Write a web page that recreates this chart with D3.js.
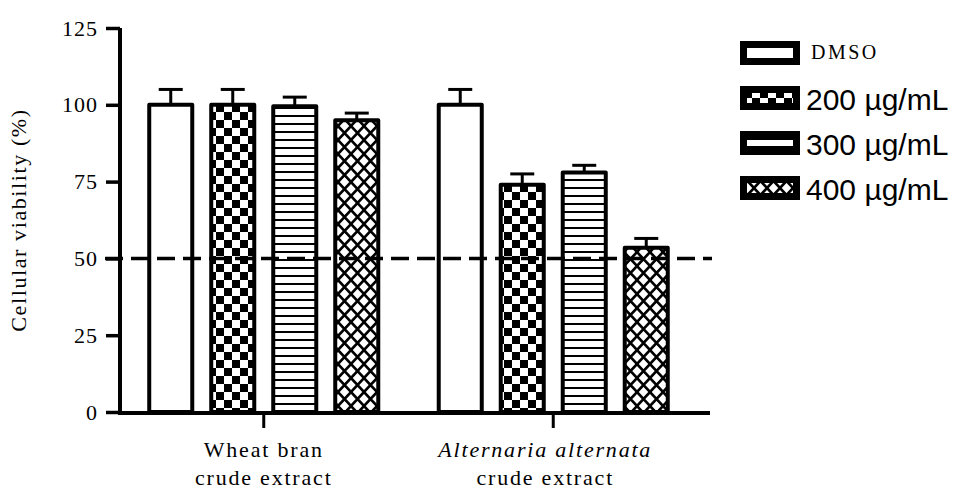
<!DOCTYPE html>
<html>
<head>
<meta charset="utf-8">
<script src="https://cdn.jsdelivr.net/npm/d3@7"></script>
<style>
  body { margin: 0; background: #fff; }
  text { fill: #000; }
</style>
</head>
<body>
<div id="chart"></div>
<script>
const groups = ["Wheat bran", "Alternaria alternata"];
const groupLines = [["Wheat bran", "crude extract"], ["Alternaria alternata", "crude extract"]];
const series = ["DMSO", "200 µg/mL", "300 µg/mL", "400 µg/mL"];
const wheatValues = [100, 100, 99.5, 95];
const wheatErrors = [5, 5, 3, 2.3];
const altValues = [100, 74, 78, 53.5];
const altErrors = [5, 3.5, 2.3, 3];
const yTicks = [0, 25, 50, 75, 100, 125];
const threshold = 50;

const W = 955, H = 491;
const svg = d3.select("#chart").append("svg")
    .attr("width", W).attr("height", H);

// patterns
const defs = svg.append("defs");
const checker = defs.append("pattern").attr("id", "p200")
    .attr("patternUnits", "userSpaceOnUse").attr("width", 16).attr("height", 16);
checker.append("rect").attr("width", 16).attr("height", 16).attr("fill", "#fff");
checker.append("rect").attr("x", 0).attr("y", 0).attr("width", 8).attr("height", 8).attr("fill", "#000");
checker.append("rect").attr("x", 8).attr("y", 8).attr("width", 8).attr("height", 8).attr("fill", "#000");

const hlines = defs.append("pattern").attr("id", "p300")
    .attr("patternUnits", "userSpaceOnUse").attr("width", 8).attr("height", 8);
hlines.append("rect").attr("width", 8).attr("height", 8).attr("fill", "#fff");
hlines.append("rect").attr("y", 3).attr("width", 8).attr("height", 2).attr("fill", "#000");

const hatch = defs.append("pattern").attr("id", "p400")
    .attr("patternUnits", "userSpaceOnUse").attr("width", 13).attr("height", 14);
hatch.append("rect").attr("width", 13).attr("height", 14).attr("fill", "#fff");
hatch.append("path").attr("d", "M0,0L13,14M13,0L0,14")
    .attr("stroke", "#000").attr("stroke-width", 2.6);

const fills = ["#fff", "url(#p200)", "url(#p300)", "url(#p400)"];

// scales
const x = d3.scaleBand().domain(groups).range([119, 698]);
const xInner = d3.scaleBand().domain(series).range([-124, 124])
    .paddingInner(0.306).paddingOuter(0.153);
const y = d3.scaleLinear().domain([0, 125]).range([412, 28]);

const data = [];
groups.forEach((g, gi) => {
  const vals = gi === 0 ? wheatValues : altValues;
  const errs = gi === 0 ? wheatErrors : altErrors;
  series.forEach((s, si) => data.push({group: g, series: s, si: si, value: vals[si], err: errs[si]}));
});
const barX = d => x(d.group) + x.bandwidth() / 2 + xInner(d.series);

// bars
svg.append("g").selectAll("rect")
  .data(data)
  .join("rect")
    .attr("x", d => barX(d))
    .attr("y", d => y(d.value))
    .attr("width", xInner.bandwidth())
    .attr("height", d => y(0) - y(d.value))
    .attr("fill", d => fills[d.si])
    .attr("stroke", "#000")
    .attr("stroke-width", 4)
    .attr("stroke-linejoin", "round");

// error bars
const eb = svg.append("g").attr("stroke", "#000").attr("stroke-width", 3);
eb.selectAll("line.stem")
  .data(data)
  .join("line").attr("class", "stem")
    .attr("x1", d => barX(d) + xInner.bandwidth() / 2)
    .attr("x2", d => barX(d) + xInner.bandwidth() / 2)
    .attr("y1", d => y(d.value))
    .attr("y2", d => y(d.value + d.err));
eb.selectAll("line.cap")
  .data(data)
  .join("line").attr("class", "cap")
    .attr("x1", d => barX(d) + xInner.bandwidth() / 2 - 12)
    .attr("x2", d => barX(d) + xInner.bandwidth() / 2 + 12)
    .attr("y1", d => y(d.value + d.err))
    .attr("y2", d => y(d.value + d.err));

// y axis
const yAxis = svg.append("g")
    .attr("transform", "translate(120,0)")
    .call(d3.axisLeft(y).tickValues(yTicks).tickSize(14).tickSizeOuter(0).tickPadding(8));
yAxis.select(".domain").attr("stroke-width", 4).attr("d", "M0," + (y(125)) + "V" + (y(0) + 2));
yAxis.selectAll(".tick line").attr("stroke-width", 3.5);
yAxis.selectAll(".tick text")
    .attr("font-family", "Liberation Serif, serif")
    .attr("font-size", 22)
    .attr("letter-spacing", 1)
    .attr("fill", "#111");

// x axis
svg.append("line")
    .attr("x1", 118).attr("x2", 710)
    .attr("y1", y(0) + 1).attr("y2", y(0) + 1)
    .attr("stroke", "#000").attr("stroke-width", 4);
const xAxis = svg.append("g")
    .attr("transform", "translate(0," + (y(0) + 1) + ")")
    .call(d3.axisBottom(x).tickSize(15).tickSizeOuter(0).tickFormat(""));
xAxis.select(".domain").remove();
xAxis.selectAll(".tick line").attr("stroke-width", 3);

// category labels
const lab = svg.append("g").selectAll("text")
  .data(groups)
  .join("text")
    .attr("text-anchor", "middle")
    .attr("font-family", "Liberation Serif, serif")
    .attr("font-size", 22)
    .attr("letter-spacing", 1.8);
lab.each(function(g, i) {
  const t = d3.select(this);
  groupLines[i].forEach((line, li) => {
    t.append("tspan")
      .attr("x", x(g) + x.bandwidth() / 2 - i * 8)
      .attr("y", 457 + li * 28)
      .attr("font-style", i === 1 && li === 0 ? "italic" : "normal")
      .text(line);
  });
});

// threshold line
svg.append("line")
    .attr("x1", 105).attr("x2", 712)
    .attr("y1", y(threshold)).attr("y2", y(threshold))
    .attr("stroke", "#000").attr("stroke-width", 3.5)
    .attr("stroke-dasharray", "18,8");

// y title
svg.append("text")
    .attr("transform", "translate(26,220) rotate(-90)")
    .attr("text-anchor", "middle")
    .attr("font-family", "Liberation Serif, serif")
    .attr("font-size", 22)
    .attr("letter-spacing", 1.6)
    .text("Cellular viability (%)");

// legend
const leg = svg.append("g").selectAll("g")
  .data(series)
  .join("g")
    .attr("transform", (d, i) => "translate(0," + (53 + i * 45) + ")");
leg.append("rect")
    .attr("x", 743.5).attr("y", -8.5)
    .attr("width", 53).attr("height", 17)
    .attr("fill", (d, i) => fills[i])
    .attr("stroke", "#000").attr("stroke-width", 7);
leg.append("text")
    .attr("x", (d, i) => i === 0 ? 811 : 806)
    .attr("y", (d, i) => i === 0 ? -1 : 1)
    .attr("dy", "0.35em")
    .attr("font-family", (d, i) => i === 0 ? "Liberation Serif, serif" : "Liberation Sans, Arial, sans-serif")
    .attr("font-size", (d, i) => i === 0 ? 20 : 30)
    .attr("letter-spacing", (d, i) => i === 0 ? 2.5 : 0)
    .text(d => d);
</script>
</body>
</html>
